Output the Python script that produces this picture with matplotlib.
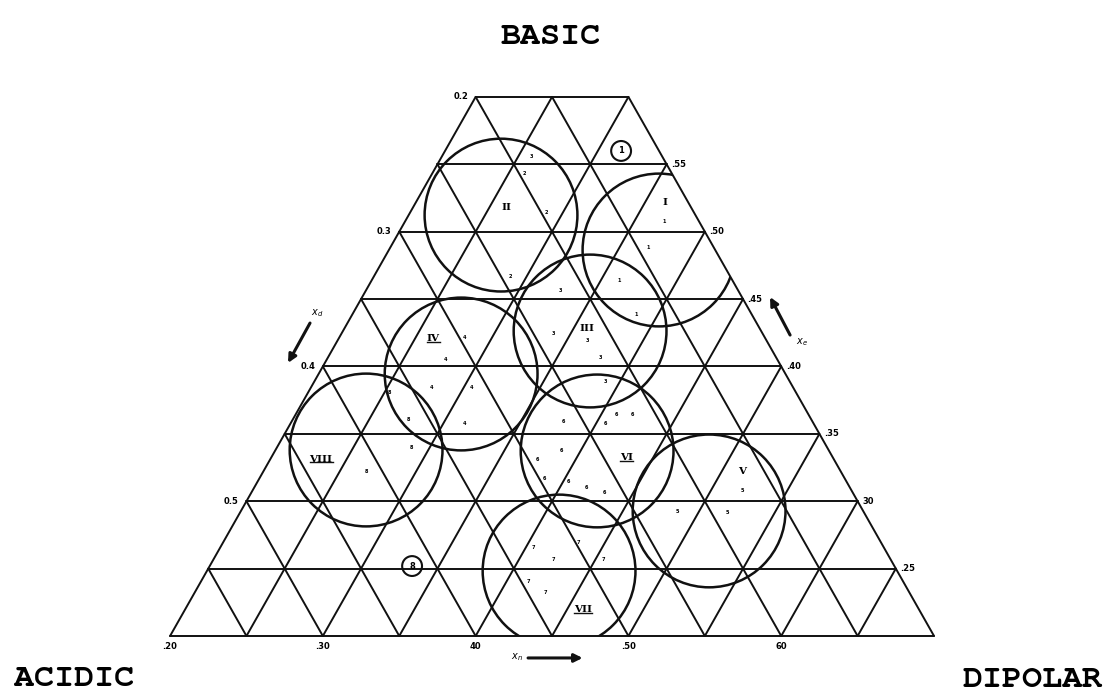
import numpy as np
import matplotlib.pyplot as plt
from matplotlib import font_manager
from matplotlib.patches import Ellipse, Polygon

# lattice: vertices along the base (x_n scale) and row levels (x_e scale)
base_pts = [0.20, 0.25, 0.30, 0.35, 0.40, 0.45, 0.50, 0.55, 0.60, 0.65, 0.70]
row_vals = [0.20, 0.25, 0.30, 0.35, 0.40, 0.45, 0.50, 0.55, 0.60]

xn_ticks = [0.20, 0.30, 0.40, 0.50, 0.60]
xn_labels = ['.20', '.30', '40', '.50', '60']
xe_ticks = [0.25, 0.30, 0.35, 0.40, 0.45, 0.50, 0.55]
xe_labels = ['.25', '30', '.35', '.40', '.45', '.50', '.55']
xd_rows = [0.60, 0.50, 0.40, 0.30]
xd_labels = ['0.2', '0.3', '0.4', '0.5']

# selectivity groups (circles)
group_names = ['I', 'II', 'III', 'IV', 'V', 'VI', 'VII', 'VIII']
group_x = [0.520, 0.4166, 0.4749, 0.3905, 0.5528, 0.4795, 0.4546, 0.3283]
group_y = [0.4864, 0.5123, 0.4263, 0.3944, 0.2928, 0.3373, 0.2482, 0.3380]
group_r = [0.050, 0.050, 0.050, 0.050, 0.050, 0.050, 0.050, 0.050]
name_x = [0.5240, 0.4205, 0.4729, 0.3721, 0.5744, 0.4985, 0.4703, 0.2988]
name_y = [0.5220, 0.5183, 0.4285, 0.4204, 0.3217, 0.3321, 0.2193, 0.3313]
underlined = [False, False, False, True, False, True, True, True]

# single solvents shown with a ring
ring_labels = ['1', '8']
ring_x = [0.4952, 0.3584]
ring_y = [0.5599, 0.2519]

# individual solvents, marked with their group number
pt_group = ['1', '1', '1', '1',
            '3', '2', '2', '2',
            '3', '3', '3', '3', '3',
            '4', '4', '4', '4', '4',
            '8', '8', '8', '8',
            '6', '6', '6', '6', '6', '6', '6', '6', '6', '6',
            '5', '5', '5',
            '7', '7', '7', '7', '7', '7']
pt_x = [0.5233, 0.5128, 0.4938, 0.5050,
        0.4362, 0.4317, 0.4461, 0.4225,
        0.4552, 0.4506, 0.4729, 0.4814, 0.4847,
        0.3930, 0.3800, 0.3708, 0.3970, 0.3930,
        0.3433, 0.3557, 0.3577, 0.3282,
        0.4919, 0.5023, 0.4572, 0.4847, 0.4559, 0.4402, 0.4447, 0.4605, 0.4722, 0.4840,
        0.5743, 0.5318, 0.5645,
        0.4375, 0.4670, 0.4506, 0.4834, 0.4343, 0.4454]
pt_y = [0.5072, 0.4879, 0.4641, 0.4389,
        0.5561, 0.5435, 0.5139, 0.4671,
        0.4560, 0.4241, 0.4189, 0.4070, 0.3885,
        0.4218, 0.4055, 0.3847, 0.3847, 0.3580,
        0.3810, 0.3610, 0.3402, 0.3217,
        0.3640, 0.3647, 0.3588, 0.3580, 0.3373, 0.3313, 0.3165, 0.3143, 0.3105, 0.3068,
        0.3083, 0.2927, 0.2913,
        0.2653, 0.2690, 0.2571, 0.2564, 0.2408, 0.2326]

# typewriter look for the corner titles, if a courier-like face exists
installed = {f.name for f in font_manager.fontManager.ttflist}
mono = 'Liberation Mono'
for cand in ['Courier New', 'Courier', 'Nimbus Mono PS', 'FreeMono', 'Liberation Mono']:
    if cand in installed:
        mono = cand
        break

W, H = 1105, 693
fig = plt.figure(figsize=(W / 100, H / 100), dpi=100)
ax = fig.add_axes([0, 0, 1, 1])
xlim = (0.0887, 0.8119)
ylim = (0.1577, 0.6719)
ax.set_xlim(*xlim)
ax.set_ylim(*ylim)
ax.axis('off')

# pixel scale of the two directions (circles must look round)
sx = W / (xlim[1] - xlim[0])
sy = H / (ylim[1] - ylim[0])
stretch = sx / sy

lc = '#111111'
lw = 1.4
y0, ytop = row_vals[0], row_vals[-1]
left0, right0 = base_pts[0], base_pts[-1]


def left_edge(y):
    return left0 + (y - y0) / 2


def right_edge(y):
    return right0 - (y - y0) / 2


# horizontal rows
for y in row_vals:
    ax.plot([left_edge(y), right_edge(y)], [y, y], color=lc, lw=lw, solid_capstyle='round')

# diagonals through base vertices
for c in base_pts:
    yend = min(ytop, y0 + (right0 - c))
    ax.plot([c, c + (yend - y0) / 2], [y0, yend], color=lc, lw=lw, solid_capstyle='round')
    yend = min(ytop, y0 + (c - left0))
    ax.plot([c, c - (yend - y0) / 2], [y0, yend], color=lc, lw=lw, solid_capstyle='round')

# clip region = the truncated triangle
outline = Polygon([(left0, y0), (right0, y0), (right_edge(ytop), ytop), (left_edge(ytop), ytop)],
                  closed=True, fill=False, edgecolor='none', transform=ax.transData)

for gx, gy, gr in zip(group_x, group_y, group_r):
    e = Ellipse((gx, gy), 2 * gr, 2 * gr * stretch, fill=False, edgecolor=lc, lw=1.8)
    ax.add_patch(e)
    e.set_clip_path(outline.get_path(), ax.transData)

under_texts = []
for nm, tx, ty, ul in zip(group_names, name_x, name_y, underlined):
    t = ax.text(tx, ty, nm, ha='center', va='center', fontsize=7.5,
                family='DejaVu Serif', fontweight='bold')
    if ul:
        under_texts.append(t)

for lab, rx, ry in zip(ring_labels, ring_x, ring_y):
    ax.add_patch(Ellipse((rx, ry), 0.013, 0.013 * stretch, fill=False, edgecolor=lc, lw=1.5))
    ax.text(rx, ry, lab, ha='center', va='center', fontsize=6, fontweight='bold')

for g, px, py in zip(pt_group, pt_x, pt_y):
    ax.text(px, py, g, ha='center', va='center', fontsize=3.6, fontweight='bold')

# scale labels
for v, s in zip(xn_ticks, xn_labels):
    ax.text(v, y0 - 0.0075, s, ha='center', va='center', fontsize=6, fontweight='bold')
for v, s in zip(xe_ticks, xe_labels):
    ax.text(right_edge(v) + 0.003, v, s, ha='left', va='center', fontsize=6, fontweight='bold')
for v, s in zip(xd_rows, xd_labels):
    ax.text(left_edge(v) - 0.005, v, s, ha='right', va='center', fontsize=6, fontweight='bold')

# direction arrows
arrow = dict(arrowstyle='-|>', lw=2.2, color=lc, mutation_scale=12, shrinkA=0, shrinkB=0)
ax.annotate('', xy=(0.2772, 0.4026), xytext=(0.2916, 0.4322), arrowprops=arrow)
ax.text(0.2962, 0.4397, r'$x_d$', fontsize=7, ha='center', va='center')
ax.annotate('', xy=(0.5927, 0.4515), xytext=(0.6058, 0.4233), arrowprops=arrow)
ax.text(0.6136, 0.4181, r'$x_e$', fontsize=7, ha='center', va='center')
ax.annotate('', xy=(0.4700, 0.1837), xytext=(0.4343, 0.1837), arrowprops=arrow)
ax.text(0.4271, 0.1845, r'$x_n$', fontsize=7, ha='center', va='center')

# corner titles
corner = dict(family=mono, fontweight='bold', fontsize=24)
fig.text(0.498, 1 - 44 / H, 'BASIC', ha='center', va='baseline', **corner)
fig.text(14 / W, 1 - 686 / H, 'ACIDIC', ha='left', va='baseline', **corner)
fig.text(1103 / W, 1 - 687 / H, 'DIPOLAR', ha='right', va='baseline', **corner)

# underline some group names
fig.canvas.draw()
rend = fig.canvas.get_renderer()
for t in under_texts:
    bb = t.get_window_extent(rend).transformed(ax.transData.inverted())
    ax.plot([bb.x0, bb.x1], [bb.y0 + 0.0008] * 2, color=lc, lw=1.0)

fig.savefig('out.png', dpi=100)
